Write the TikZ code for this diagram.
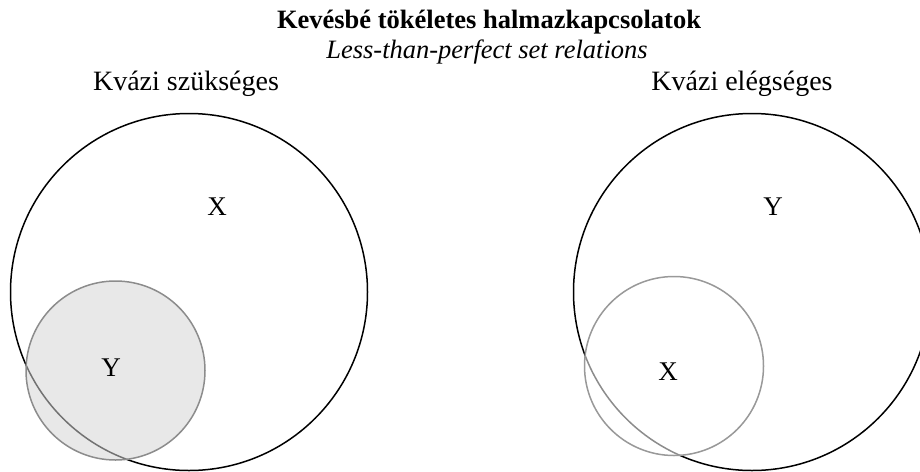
\documentclass[tikz,border=0pt]{standalone}
\usepackage{fontspec}
\setmainfont{Liberation Serif}
\begin{document}
\begin{tikzpicture}[x=1pt,y=-1pt,
  bigset/.style={circle,draw=black,line width=1.5pt,inner sep=0pt,minimum size=357pt},
  smallset/.style={circle,draw=black!45,line width=1.5pt,inner sep=0pt,minimum size=179pt},
  setlabel/.style={font=\fontsize{27}{30}\selectfont,inner sep=0pt},
  headlabel/.style={font=\fontsize{28}{32}\selectfont,inner sep=0pt,anchor=base},
  titlestyle/.style={font=\fontsize{26.5}{30}\selectfont\bfseries,inner sep=0pt,anchor=base},
  subtitlestyle/.style={font=\fontsize{26.5}{30}\selectfont\itshape,inner sep=0pt,anchor=base}]
\useasboundingbox (0,0) rectangle (920,471);
\clip (0,0) rectangle (920,471);
\node[titlestyle] (title) at (489,28) {Kevésbé tökéletes halmazkapcsolatok};
\node[subtitlestyle] (subtitle) at (487,58) {Less-than-perfect set relations};
\node[headlabel] (hleft) at (186,90) {Kvázi szükséges};
\node[headlabel] (hright) at (742,90) {Kvázi elégséges};
% left diagram
\node[bigset] (bigL) at (189,292) {};
\node[smallset,fill={rgb,1:red,0.83;green,0.83;blue,0.83},fill opacity=0.54] (smallL) at (115.5,370.5) {};
\node[setlabel] (xL) at (217,207) {X};
\node[setlabel] (yL) at (111,368) {Y};
% right diagram
\node[bigset] (bigR) at (752,292) {};
\node[smallset,draw=black!40,fill=white,fill opacity=0.55] (smallR) at (674,366) {};
\node[setlabel] (yR) at (773,207) {Y};
\node[setlabel] (xR) at (668,372) {X};
\end{tikzpicture}
\end{document}
